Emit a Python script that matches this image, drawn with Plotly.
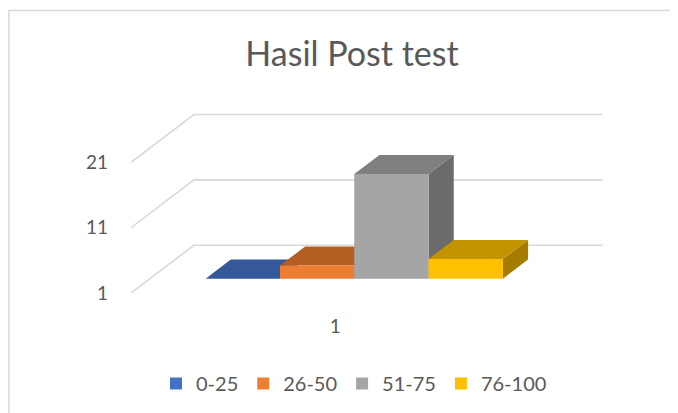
import plotly.graph_objects as go

# ---------------- data ----------------
categories = ["1"]
series_names = ["0-25", "26-50", "51-75", "76-100"]
series_values = [1, 3, 17, 4]
y_ticks = [1, 11, 21]

# ---------------- style ----------------
front_colors = ["#4472C4", "#ED7D31", "#A5A5A5", "#FFC000"]
top_colors = ["#34589A", "#B55E24", "#7F7F7F", "#C39300"]
side_colors = ["#2B4A80", "#9E521F", "#6B6B6B", "#A67C00"]
text_color = "#595959"
grid_color = "#D9D9D9"
FONT = "Lato"

Y_MIN = y_ticks[0]
GAP_WIDTH = 1.5                      # Excel gap width 150 %
bar_w = 1.0 / (len(series_names) + GAP_WIDTH)
DEPTH_X = 0.1541                     # oblique depth offset (x units)
DEPTH_Y = 7.306                      # oblique depth offset (value units)
Z_FRONT, Z_BACK = 0.3, 0.7           # bar depth inside the floor

OFF = 8                              # page body margin
W, H = 678 - OFF, 413 - OFF
L, T = 131 - OFF, 100 - OFF
PW, PH = 472, 194
R, B = W - L - PW, H - T - PH
X_RANGE = [0.5, 1.65488]
Y_RANGE = [Y_MIN, 30.528]

fig = go.Figure()
shapes = []

# wall gridlines (left wall diagonal + back wall horizontal)
x_front_left = X_RANGE[0]
for t in y_ticks:
    path = (f"M {x_front_left},{t} "
            f"L {x_front_left + DEPTH_X},{t + DEPTH_Y} "
            f"L {x_front_left + DEPTH_X + 1.0},{t + DEPTH_Y}")
    shapes.append(dict(type="path", path=path, xref="x", yref="y",
                       line=dict(color=grid_color, width=1.6), layer="below"))

n = len(series_names)
for ci, cat in enumerate(categories):
    cx = ci + 1
    for i, (name, v) in enumerate(zip(series_names, series_values)):
        x0 = cx - n * bar_w / 2 + i * bar_w
        x1 = x0 + bar_w
        fx, fy = Z_FRONT * DEPTH_X, Z_FRONT * DEPTH_Y
        bx, by = Z_BACK * DEPTH_X, Z_BACK * DEPTH_Y
        # right side face
        side = (f"M {x1 + fx},{Y_MIN + fy} L {x1 + bx},{Y_MIN + by} "
                f"L {x1 + bx},{v + by} L {x1 + fx},{v + fy} Z")
        shapes.append(dict(type="path", path=side, xref="x", yref="y",
                           fillcolor=side_colors[i], line=dict(width=0),
                           layer="below"))
        # top face
        top = (f"M {x0 + fx},{v + fy} L {x1 + fx},{v + fy} "
               f"L {x1 + bx},{v + by} L {x0 + bx},{v + by} Z")
        shapes.append(dict(type="path", path=top, xref="x", yref="y",
                           fillcolor=top_colors[i], line=dict(width=0),
                           layer="below"))
        # front face as a real bar
        fig.add_trace(go.Bar(
            x=[x0 + bar_w / 2 + fx], y=[v - Y_MIN], base=[Y_MIN + fy],
            width=[bar_w], name=name,
            marker=dict(color=front_colors[i], line=dict(width=0)),
            hoverinfo="skip", showlegend=(ci == 0)))

# chart-area border (left and top edges visible)
shapes.append(dict(type="rect", xref="paper", yref="paper",
                   x0=(9 - OFF - L) / PW, x1=2.0,
                   y0=-2.0, y1=(H - B - (10 - OFF)) / PH,
                   line=dict(color=grid_color, width=1.5),
                   fillcolor="rgba(0,0,0,0)", layer="below"))

fig.update_layout(
    width=W, height=H,
    margin=dict(l=L, r=R, t=T, b=B),
    paper_bgcolor="white", plot_bgcolor="white",
    barmode="overlay",
    shapes=shapes,
    title=dict(text="Hasil Post test", x=(352 - OFF) / W, xref="container",
               xanchor="center", y=1 - (54 - OFF) / H, yref="container",
               yanchor="middle",
               font=dict(family=FONT, size=34, color=text_color)),
    xaxis=dict(range=X_RANGE, showgrid=False, zeroline=False, showline=False,
               ticks="", tickvals=[c + 1 for c in range(len(categories))],
               ticktext=categories, ticklabelstandoff=20,
               tickfont=dict(family=FONT, size=19, color=text_color),
               fixedrange=True),
    yaxis=dict(range=Y_RANGE, showgrid=False, zeroline=False, showline=False,
               ticks="", tickvals=y_ticks, ticklabelstandoff=22,
               tickfont=dict(family=FONT, size=19, color=text_color),
               fixedrange=True),
    legend=dict(orientation="h", x=(354 - OFF - L) / PW, xanchor="center",
                y=(H - B - (383.5 - OFF)) / PH, yanchor="middle",
                font=dict(family=FONT, size=20, color=text_color),
                bgcolor="rgba(0,0,0,0)", traceorder="normal"),
    showlegend=True,
)

fig.write_html("out.html")
